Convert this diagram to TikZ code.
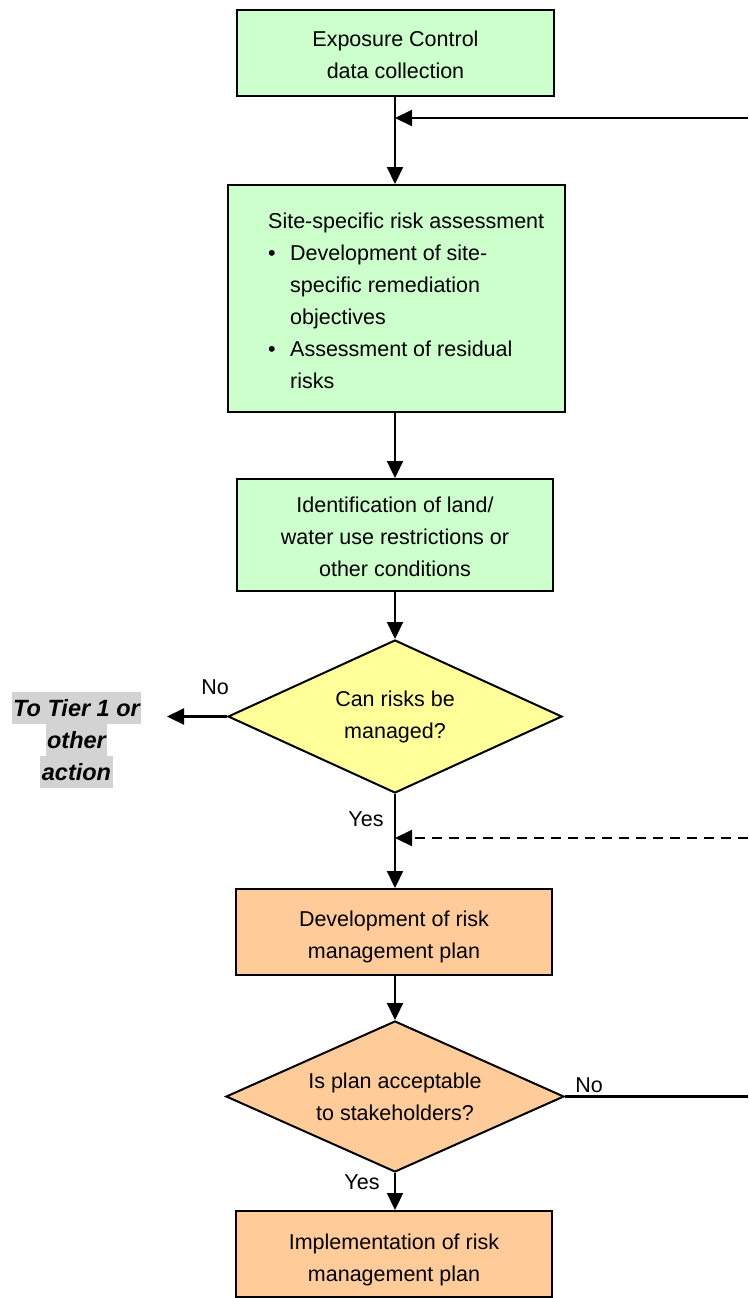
\documentclass[tikz,border=0pt]{standalone}
\usepackage{fontspec}
\setmainfont{Liberation Sans}
\usetikzlibrary{arrows.meta,shapes.geometric}
\definecolor{boxgreen}{RGB}{204,255,204}
\definecolor{boxyellow}{RGB}{255,255,153}
\definecolor{boxorange}{RGB}{255,204,153}
\definecolor{hlgray}{RGB}{211,211,211}
\begin{document}
\begin{tikzpicture}[x=1pt,y=-1pt,
  every node/.style={font=\fontsize{21.5}{32}\selectfont},
  procbox/.style={draw=black,line width=2pt,rectangle,inner sep=0pt},
  txt/.style={inner sep=0pt,align=center},
  decision/.style={draw=black,line width=2pt,diamond,aspect=2.2,inner sep=0pt,align=center},
  conn/.style={line width=2.2pt,-{Triangle[length=17pt,width=16pt]}},
  plainline/.style={line width=2.2pt},
  lbl/.style={inner sep=0pt},
  tier/.style={fill=hlgray,inner xsep=1.5pt,inner ysep=0pt,minimum height=32pt,
    font=\fontsize{23.5}{32}\selectfont\bfseries\itshape}
]
\useasboundingbox (0,0) rectangle (748,1298);
% boxes
\node[procbox,fill=boxgreen,minimum width=317pt,minimum height=86pt] (b1) at (395.5,53) {};
\node[txt] (b1t) at ([yshift=-2pt]b1.center) {Exposure Control\\data collection};
\node[procbox,fill=boxgreen,minimum width=337pt,minimum height=227pt] (b2) at (396.5,298.5) {};
\node[lbl,anchor=base west,align=left] (b2t) at (268,388)
  {Site-specific risk assessment\\
   \makebox[22pt][l]{\textbullet}Development of site-\\
   \hspace*{22pt}specific remediation\\
   \hspace*{22pt}objectives\\
   \makebox[22pt][l]{\textbullet}Assessment of residual\\
   \hspace*{22pt}risks};
\node[procbox,fill=boxgreen,minimum width=316pt,minimum height=112pt] (b3) at (395,535) {};
\node[txt] (b3t) at ([yshift=-2pt]b3.center)
  {Identification of land/\\water use restrictions or\\other conditions};
\node[decision,fill=boxyellow,minimum width=334pt,minimum height=153pt] (d1) at (395,716.5)
  {Can risks be\\managed?};
\node[procbox,fill=boxorange,minimum width=316pt,minimum height=86pt] (b4) at (394,932) {};
\node[txt] (b4t) at ([yshift=-5pt]b4.center) {Development of risk\\management plan};
\node[decision,fill=boxorange,minimum width=338pt,minimum height=151pt] (d2) at (395,1096.5)
  {Is plan acceptable\\to stakeholders?};
\node[procbox,fill=boxorange,minimum width=316pt,minimum height=86pt] (b5) at (394,1254) {};
\node[txt] (b5t) at ([yshift=-6pt]b5.center) {Implementation of risk\\management plan};
% side text
\node[tier] (t1) at (76.5,708) {To Tier 1 or};
\node[tier] (t2) at (76.5,740) {other};
\node[tier] (t3) at (76.5,772) {action};
% labels
\node[lbl] (no1) at (215,687) {No};
\node[lbl] (yes1) at (366,819) {Yes};
\node[lbl] (no2) at (589,1085) {No};
\node[lbl] (yes2) at (362,1182) {Yes};
% coordinates
\coordinate (fbA) at (748,118);
\coordinate (fbAt) at (395,118);
\coordinate (fbB) at (748,838);
\coordinate (fbBt) at (395,838);
\coordinate (noEnd) at (167,716.5);
\coordinate (no2End) at (748,1096.5);
% connectors
\draw[conn] (b1.south -| 395,0) -- (b2.north -| 395,0);
\draw[conn] (fbA) -- (fbAt);
\draw[conn] (b2.south -| 395,0) -- (b3.north -| 395,0);
\draw[conn] (b3.south -| 395,0) -- (d1.north);
\draw[conn] (d1.west) -- (noEnd);
\draw[conn] (d1.south) -- (b4.north -| 395,0);
\draw[conn,dash pattern=on 10pt off 7pt] (fbB) -- (fbBt);
\draw[conn] (b4.south -| 395,0) -- (d2.north);
\draw[plainline] (d2.east) -- (no2End);
\draw[conn] (d2.south) -- (b5.north -| 395,0);
\end{tikzpicture}
\end{document}
